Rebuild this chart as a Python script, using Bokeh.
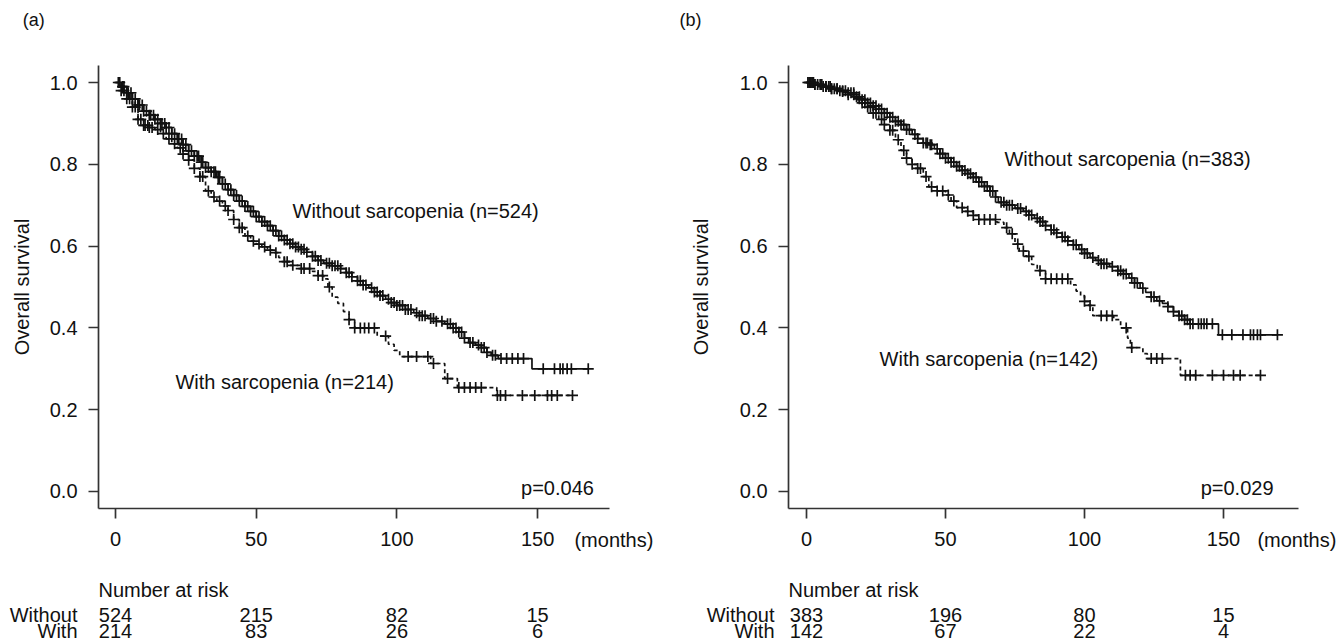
import numpy as np
from bokeh.plotting import figure
from bokeh.layouts import row
from bokeh.models import Label, FixedTicker, PrintfTickFormatter, Range1d
from bokeh.embed import file_html
from bokeh.resources import INLINE

FONT = "Liberation Sans"
INK = "#111111"

# ---------------- data: panel (a) ----------------
a_wo_t = [0, 2, 4, 6, 8, 10, 12, 14, 16, 18, 20, 22, 24, 26, 28, 30, 32, 34, 36, 38, 40, 42, 44, 46, 48, 50,
          52, 54, 56, 58, 60, 62, 64, 66, 68, 70, 72, 74, 77, 80, 82, 84, 86, 88, 90, 92, 94, 96, 98, 100, 103,
          106, 108, 111, 114, 117, 120, 122, 124, 125.5, 128, 130, 132, 133.5, 136, 148]
a_wo_s = [1.0, 0.99, 0.975, 0.96, 0.945, 0.93, 0.92, 0.91, 0.90, 0.89, 0.875, 0.862, 0.848, 0.833, 0.82, 0.805,
          0.792, 0.782, 0.768, 0.752, 0.738, 0.724, 0.71, 0.697, 0.685, 0.672, 0.66, 0.65, 0.638, 0.625, 0.615,
          0.606, 0.598, 0.592, 0.585, 0.575, 0.565, 0.558, 0.552, 0.545, 0.535, 0.525, 0.515, 0.505, 0.498, 0.488,
          0.479, 0.47, 0.462, 0.455, 0.445, 0.437, 0.43, 0.423, 0.416, 0.41, 0.40, 0.39, 0.375, 0.364, 0.358,
          0.352, 0.34, 0.333, 0.325, 0.30]
a_wo_cens = [1.5, 2.5, 3, 4, 4.5, 5.5, 6, 7, 8, 8.5, 9.5, 10, 11, 12, 12.5, 13.5, 14, 15, 16, 16.5, 17.5, 18, 19,
             20, 21, 22, 22.5, 23.5, 24, 25, 26, 27, 28, 29, 29.5, 30.5, 31, 32, 33, 34, 35, 35.5, 36.5, 37, 38,
             39, 40, 41, 42, 43, 44, 45, 46, 47, 48, 49, 50, 51, 52, 53, 54, 55, 56, 57, 58, 59, 60, 61, 62, 63,
             64, 65, 66, 67, 68, 70, 71, 72, 73, 75, 76, 77, 78, 79, 80, 82, 83, 84, 86, 87, 88, 89, 91, 92, 93,
             94, 95, 97, 98, 99, 100, 101, 102, 103, 104, 105, 107, 108, 109, 110, 112, 113, 114, 116, 118, 119,
             120, 121, 122, 123, 124, 126, 127, 129, 130, 131, 132, 134, 135, 137, 139, 141, 143, 145, 152, 156,
             158, 159, 160.5, 162, 168]

a_w_t = [0, 2, 4, 6, 8, 10, 12, 14, 16, 18, 20, 22, 24, 26, 28, 30, 32, 34, 36, 38, 40, 42, 44, 46, 48, 50, 52,
         54, 56, 58, 60, 62, 66, 70, 72, 74, 75.5, 77, 79, 81, 83, 85, 93, 97, 99, 101, 112, 117, 121.5, 135.5]
a_w_s = [1.0, 0.98, 0.96, 0.94, 0.91, 0.895, 0.89, 0.885, 0.875, 0.862, 0.85, 0.84, 0.825, 0.81, 0.79, 0.77,
         0.735, 0.72, 0.71, 0.698, 0.687, 0.665, 0.645, 0.625, 0.612, 0.605, 0.598, 0.59, 0.584, 0.572, 0.562,
         0.553, 0.545, 0.538, 0.528, 0.52, 0.50, 0.475, 0.46, 0.44, 0.42, 0.40, 0.38, 0.36, 0.345, 0.33, 0.313,
         0.276, 0.254, 0.235]
a_w_cens = [1, 2, 3, 4, 5, 6, 7, 8, 9, 10, 10.5, 11.5, 12, 13, 15, 17, 19, 21, 23, 24, 26, 28, 30, 31, 33, 35,
            37, 39, 40, 42, 44, 45, 47, 49, 51, 53, 55, 57, 60, 61, 63, 66, 67, 69, 72, 73.6, 76, 83, 85, 87,
            88.5, 90, 92, 96, 104, 107, 111, 113, 118, 122, 124, 126, 128, 130, 135.7, 136.8, 138.6, 144.6, 149,
            153.5, 155, 157, 162.4]

# ---------------- data: panel (b) ----------------
b_wo_t = [0, 3, 6, 9, 12, 15, 18, 20, 22, 24, 26, 28, 30, 32, 34, 36, 38, 40, 42, 44, 46, 48, 50, 52, 54, 56,
          58, 60, 62, 64, 66, 68, 69, 72, 75, 78, 80, 82, 84, 86, 88, 90, 92, 94, 96, 98, 100, 102, 104, 106,
          109, 112, 114, 116, 118, 120, 122, 124, 126, 128, 130, 132, 134, 136, 138, 148.2]
b_wo_s = [1.0, 0.995, 0.99, 0.985, 0.98, 0.975, 0.965, 0.958, 0.95, 0.943, 0.935, 0.925, 0.915, 0.905, 0.897,
          0.885, 0.873, 0.863, 0.852, 0.848, 0.838, 0.826, 0.815, 0.805, 0.795, 0.785, 0.777, 0.768, 0.757,
          0.746, 0.735, 0.72, 0.707, 0.70, 0.692, 0.685, 0.676, 0.668, 0.66, 0.65, 0.64, 0.632, 0.622, 0.613,
          0.603, 0.592, 0.582, 0.572, 0.565, 0.557, 0.55, 0.54, 0.532, 0.522, 0.51, 0.497, 0.487, 0.476, 0.466,
          0.46, 0.452, 0.44, 0.43, 0.42, 0.41, 0.383]
b_wo_cens = [0.5, 1, 1.5, 2, 2.5, 3, 4, 5, 5.5, 6, 7, 8, 8.5, 9, 10, 11, 12, 13, 14, 15, 16, 17, 18, 19, 20, 21,
             22, 23, 24, 25, 26, 27, 28, 29, 30, 31, 32, 33, 34, 35, 36, 37, 39, 40, 42, 43, 43.5, 44.5, 45, 47,
             48, 49, 50, 51, 52, 53, 54, 55, 56, 57, 58, 59, 60, 61, 62, 63, 64, 65, 66, 67, 68, 70, 71, 72, 73,
             74, 76, 77, 79, 80, 81, 83, 84, 85, 86, 88, 89, 90, 92, 93, 94, 96, 97, 99, 100, 101, 103, 105, 106,
             107, 108, 110, 112, 113, 114, 115, 117, 118, 119, 121, 124, 125, 127, 130, 132, 134, 135, 136, 137,
             138, 139, 141, 142, 143, 144, 146, 149.6, 153, 157, 159.7, 160.8, 162.2, 163.3, 169.4]

b_w_t = [0, 3, 6, 9, 12, 15, 18, 20, 22, 24, 26, 28, 30, 32, 34, 36, 38, 40, 42, 44, 47, 50, 52, 54, 57, 60, 62,
         68.5, 71, 73, 75, 76.5, 79, 81, 83, 86, 95, 97, 98.6, 100, 101.5, 103, 110.5, 113, 115.5, 116.5, 121,
         122.6, 134.5]
b_w_s = [1.0, 0.995, 0.99, 0.985, 0.978, 0.97, 0.96, 0.95, 0.94, 0.925, 0.91, 0.897, 0.883, 0.86, 0.834, 0.815,
         0.80, 0.79, 0.77, 0.745, 0.735, 0.725, 0.71, 0.694, 0.685, 0.675, 0.665, 0.658, 0.645, 0.63, 0.605,
         0.588, 0.575, 0.555, 0.54, 0.52, 0.505, 0.49, 0.479, 0.465, 0.455, 0.43, 0.42, 0.40, 0.375, 0.352,
         0.337, 0.325, 0.284]
b_w_cens = [1, 2, 3, 5, 7, 9, 11, 13, 15, 17, 19, 20, 21, 22, 23, 24, 25, 27, 28, 30, 31, 33, 35, 36, 38, 40, 41,
            43, 45, 47, 49, 51, 53, 56, 58, 60, 62, 64, 66, 68, 72, 74, 76, 78, 80, 84, 86, 88, 90, 92, 94, 100,
            102, 106, 108, 110, 115, 117, 124, 126, 128, 136.3, 138, 140, 146, 150, 153.6, 156, 163.3]

x_ticks = [0, 50, 100, 150]
y_ticks = [0.0, 0.2, 0.4, 0.6, 0.8, 1.0]
risk_rows = ["Without", "With"]
a_risk_without = [524, 215, 82, 15]
a_risk_with = [214, 83, 26, 6]
b_risk_without = [383, 196, 80, 15]
b_risk_with = [142, 67, 22, 4]

Y_AX = (-0.0416, 1.0416)      # extent of the drawn y axis
Y_VIEW = (-0.3741, 1.2005)    # full canvas in data units


def surv_at(times, surv, t):
    idx = np.searchsorted(np.asarray(times), np.asarray(t), side="right") - 1
    return np.asarray(surv)[idx]


def add_curve(p, times, surv, cens, dash):
    end = cens[-1]
    xs = list(times) + [end]
    ys = list(surv) + [surv[-1]]
    p.step(xs, ys, mode="after", line_color=INK, line_width=1.7, line_dash=dash)
    cy = surv_at(times, surv, cens)
    p.scatter(cens, cy, marker="cross", size=11, line_color=INK, line_width=1.7)


def label(p, x, y, text, align="left", size="20px"):
    p.add_layout(Label(x=x, y=y, text=text, text_font=FONT, text_font_size=size, text_color=INK,
                       text_align=align, text_baseline="middle"))


def panel(tag, xview, xaxis, ylab_standoff, curves, without_txt, with_txt, ptxt, ptx, risk_w, risk_wi,
          rowx, tagx, monthsx):
    p = figure(width=668, height=644, output_backend="svg", toolbar_location=None,
               x_range=Range1d(*xview), y_range=Range1d(*Y_VIEW),
               min_border=0, min_border_left=0, min_border_right=0, min_border_top=0, min_border_bottom=0)
    p.outline_line_color = None
    p.xgrid.visible = False
    p.ygrid.visible = False
    for ax in (p.xaxis[0], p.yaxis[0]):
        ax.axis_line_color = "#333333"
        ax.axis_line_width = 1.7
        ax.major_tick_line_color = "#333333"
        ax.major_tick_line_width = 1.7
        ax.major_tick_out = 10
        ax.major_tick_in = 0
        ax.minor_tick_line_color = None
        ax.major_label_text_font = FONT
        ax.major_label_text_font_size = "20px"
        ax.major_label_text_color = INK
    p.xaxis.fixed_location = Y_AX[0]
    p.xaxis.bounds = xaxis
    p.yaxis.fixed_location = xaxis[0]
    p.yaxis.bounds = Y_AX
    p.xaxis.ticker = FixedTicker(ticks=x_ticks)
    p.yaxis.ticker = FixedTicker(ticks=y_ticks)
    p.yaxis.formatter = PrintfTickFormatter(format="%.1f")
    p.xaxis.major_label_standoff = 13
    p.yaxis.major_label_standoff = 11
    p.yaxis.axis_label = "Overall survival"
    p.yaxis.axis_label_text_font = FONT
    p.yaxis.axis_label_text_font_size = "20px"
    p.yaxis.axis_label_text_font_style = "normal"
    p.yaxis.axis_label_text_color = INK
    p.yaxis.axis_label_standoff = ylab_standoff

    for (t, s, c, d) in curves:
        add_curve(p, t, s, c, d)

    label(p, without_txt[0], without_txt[1], without_txt[2])
    label(p, with_txt[0], with_txt[1], with_txt[2])
    label(p, ptx, 0.008, ptxt, align="right")
    label(p, monthsx, -0.118, "(months)")
    label(p, tagx, 1.152, tag, size="18px")
    label(p, xaxis[0], -0.24, "Number at risk")
    label(p, rowx, -0.301, risk_rows[0], align="right")
    label(p, rowx, -0.341, risk_rows[1], align="right")
    for xt, v1, v2 in zip(x_ticks, risk_w, risk_wi):
        label(p, xt, -0.301, str(v1), align="center")
        label(p, xt, -0.341, str(v2), align="center")
    return p


pa = panel("(a)", (-40.87, 196.52), (-6.04, 175.55), 14,
           [(a_wo_t, a_wo_s, a_wo_cens, "solid"), (a_w_t, a_w_s, a_w_cens, "4 3")],
           (62.9, 0.685, "Without sarcopenia (n=524)"), (21.3, 0.267, "With sarcopenia (n=214)"),
           "p=0.046", 170.0, a_risk_without, a_risk_with, -13.5, -33.0, 163.1)

pb = panel("(b)", (-49.64, 190.65), (-6.47, 176.98), 25,
           [(b_wo_t, b_wo_s, b_wo_cens, "solid"), (b_w_t, b_w_s, b_w_cens, "4 3")],
           (71.2, 0.814, "Without sarcopenia (n=383)"), (26.3, 0.323, "With sarcopenia (n=142)"),
           "p=0.029", 168.0, b_risk_without, b_risk_with, -11.5, -45.7, 162.2)

layout = row(pa, pb, spacing=0)
open("out.html", "w").write(file_html(layout, INLINE))
